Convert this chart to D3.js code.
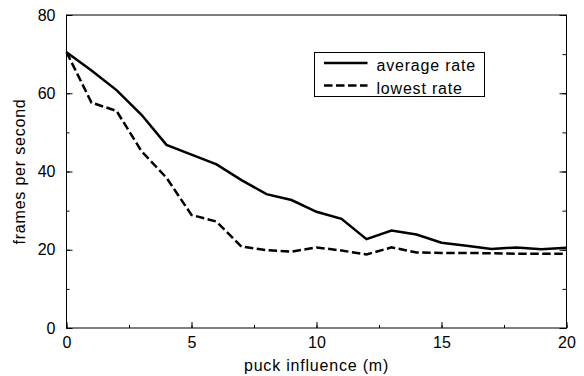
<!DOCTYPE html>
<html>
<head>
<meta charset="utf-8">
<script src="https://cdn.jsdelivr.net/npm/d3@7"></script>
<style>
  body { margin: 0; background: #fff; }
  svg text { font-family: "Liberation Sans", Arial, Helvetica, sans-serif; fill: #000; }
  .wide { letter-spacing: 0.8px; }
</style>
</head>
<body>
<div id="chart"></div>
<script>
// values
const influence = [0, 1, 2, 3, 4, 5, 6, 7, 8, 9, 10, 11, 12, 13, 14, 15, 16, 17, 18, 19, 20];
const averageRate = [70.5, 65.8, 60.8, 54.5, 46.8, 44.3, 41.8, 37.8, 34.2, 32.7, 29.7, 27.9, 22.7, 24.9, 23.9, 21.8, 21.0, 20.2, 20.6, 20.1, 20.5];
const lowestRate = [70.5, 57.6, 55.5, 45.2, 38.4, 28.9, 27.2, 20.8, 19.9, 19.5, 20.6, 19.8, 18.8, 20.6, 19.3, 19.2, 19.2, 19.1, 19.0, 19.0, 19.0];
const seriesNames = ["average rate", "lowest rate"];
const xMajorTicks = [0, 5, 10, 15, 20];
const yMajorTicks = [0, 20, 40, 60, 80];

const width = 584, height = 376;
const margin = { top: 15, right: 17.5, bottom: 48, left: 66.5 };

const svg = d3.select("#chart").append("svg")
  .attr("width", width)
  .attr("height", height);

const x = d3.scaleLinear().domain([0, 20]).range([margin.left, width - margin.right]);
const y = d3.scaleLinear().domain([0, 80]).range([height - margin.bottom, margin.top]);

const fontSize = "16px";

// frame
svg.append("rect")
  .attr("x", x(0)).attr("y", y(80))
  .attr("width", x(20) - x(0)).attr("height", y(0) - y(80))
  .attr("fill", "none").attr("stroke", "#000").attr("stroke-width", 1);

// bottom axis: minor then major ticks, pointing inward
svg.append("g")
  .attr("transform", `translate(0,${y(0)})`)
  .call(d3.axisBottom(x).tickValues(d3.range(0, 20.1, 2.5)).tickSize(-3).tickFormat(""))
  .call(g => g.select(".domain").remove());
svg.append("g")
  .attr("transform", `translate(0,${y(0)})`)
  .call(d3.axisBottom(x).tickValues(xMajorTicks).tickSize(-6).tickPadding(9).tickFormat(d3.format("d")))
  .call(g => g.select(".domain").remove())
  .call(g => g.selectAll("text").style("font-size", fontSize));

// left axis
svg.append("g")
  .attr("transform", `translate(${x(0)},0)`)
  .call(d3.axisLeft(y).tickValues(d3.range(0, 81, 10)).tickSize(-3).tickFormat(""))
  .call(g => g.select(".domain").remove());
svg.append("g")
  .attr("transform", `translate(${x(0)},0)`)
  .call(d3.axisLeft(y).tickValues(yMajorTicks).tickSize(-6).tickPadding(11).tickFormat(d3.format("d")))
  .call(g => g.select(".domain").remove())
  .call(g => g.selectAll("text").style("font-size", fontSize));

// right axis, ticks only
svg.append("g")
  .attr("transform", `translate(${x(20)},0)`)
  .call(d3.axisRight(y).tickValues(d3.range(0, 81, 10)).tickSize(-4).tickFormat(""))
  .call(g => g.select(".domain").remove());
svg.append("g")
  .attr("transform", `translate(${x(20)},0)`)
  .call(d3.axisRight(y).tickValues(yMajorTicks).tickSize(-7).tickFormat(""))
  .call(g => g.select(".domain").remove());

// lines
const line = d3.line()
  .x((d, i) => x(influence[i]))
  .y(d => y(d));

svg.append("path")
  .datum(averageRate)
  .attr("d", line)
  .attr("fill", "none")
  .attr("stroke", "#000")
  .attr("stroke-width", 2.5);

svg.append("path")
  .datum(lowestRate)
  .attr("d", line)
  .attr("fill", "none")
  .attr("stroke", "#000")
  .attr("stroke-width", 2.5)
  .attr("stroke-dasharray", "8.5,3.5");

// axis titles
svg.append("text")
  .attr("class", "wide")
  .attr("x", (x(0) + x(20)) / 2)
  .attr("y", 371)
  .attr("text-anchor", "middle")
  .style("font-size", fontSize)
  .text("puck influence (m)");

svg.append("text")
  .attr("class", "wide")
  .attr("transform", `translate(25,${(y(0) + y(80)) / 2}) rotate(-90)`)
  .attr("text-anchor", "middle")
  .style("font-size", fontSize)
  .text("frames per second");

// legend
const legend = svg.append("g").attr("transform", "translate(314.5,52.5)");
legend.append("rect")
  .attr("width", 170).attr("height", 44)
  .attr("fill", "#fff").attr("stroke", "#000").attr("stroke-width", 1);

const dashes = [null, "8.5,3.5"];
seriesNames.forEach((name, i) => {
  const ly = 10.5 + i * 22.5;
  legend.append("line")
    .attr("x1", 9.5).attr("x2", 53)
    .attr("y1", ly).attr("y2", ly)
    .attr("stroke", "#000").attr("stroke-width", 2.5)
    .attr("stroke-dasharray", dashes[i]);
  legend.append("text")
    .attr("class", "wide")
    .attr("x", 62).attr("y", ly + 8)
    .style("font-size", fontSize)
    .text(name);
});
</script>
</body>
</html>
